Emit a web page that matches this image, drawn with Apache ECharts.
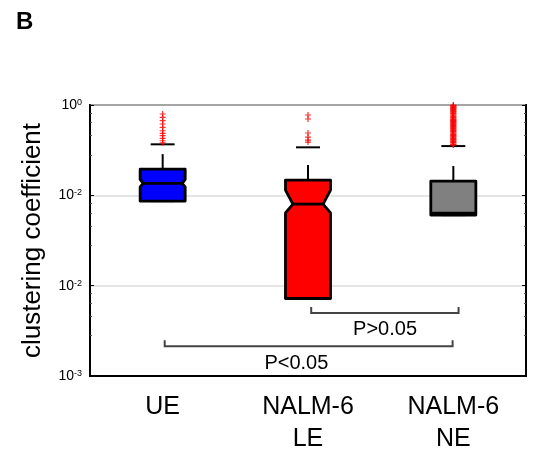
<!DOCTYPE html>
<html>
<head>
<meta charset="utf-8">
<script src="https://cdn.jsdelivr.net/npm/echarts@6/dist/echarts.min.js"></script>
<style>
  html, body { margin: 0; padding: 0; background: #fff; }
  #chart { width: 533px; height: 457px; }
</style>
</head>
<body>
<div id="chart"></div>
<script>
var categories = ['UE', 'NALM-6\nLE', 'NALM-6\nNE'];
var boxColors = ['#0000ff', '#ff0000', '#808080'];

// box statistics
var whiskerLow = [0.0863, 0.00721, 0.0604];
var q1 = [0.0863, 0.00721, 0.0604];
var median = [0.1356, 0.080, 0.0636];
var q3 = [0.195, 0.1475, 0.144];
var whiskerHigh = [0.367, 0.340, 0.351];
var notchLow = [0.124, 0.064, 0.0636];
var notchHigh = [0.150, 0.1143, 0.0636];

var outliersUE = [0.795, 0.731, 0.670, 0.616, 0.566, 0.519, 0.486, 0.457, 0.428, 0.402, 0.382];
var outliersLE = [0.775, 0.700, 0.490, 0.442, 0.409, 0.389];
var outliersNE = [1.0, 0.985, 0.97, 0.955, 0.94, 0.925, 0.91, 0.895, 0.88, 0.865, 0.85, 0.835,
                  0.82, 0.805, 0.79, 0.775, 0.76, 0.745, 0.73, 0.715, 0.70, 0.69, 0.68, 0.67,
                  0.66, 0.65, 0.64, 0.63, 0.62, 0.61, 0.60, 0.59, 0.58, 0.57, 0.56, 0.55,
                  0.54, 0.53, 0.52, 0.51, 0.50, 0.49, 0.48, 0.47, 0.46, 0.455, 0.445, 0.44,
                  0.43, 0.425, 0.415, 0.41, 0.40, 0.395, 0.385, 0.38, 0.37, 0.365, 0.36];

// y tick labels as printed in the figure (bottom to top)
var yTickBase = ['10', '10', '10', '10'];
var yTickPower = ['-3', '-2', '-2', '0'];

// significance brackets: category positions (fractional), height and label
var bracketFrom = [1.022, 0.014];
var bracketTo = [2.036, 1.995];
var bracketY = [0.00499, 0.00213];
var bracketLabelAt = [1.53, 0.92];
var bracketText = ['P>0.05', 'P<0.05'];

var FONT = '"Liberation Sans", Arial, sans-serif';

var chartDom = document.getElementById('chart');
var myChart = echarts.init(chartDom);

var outlierData = [];
outliersUE.forEach(function (v) { outlierData.push([0, v]); });
outliersLE.forEach(function (v) { outlierData.push([1, v]); });
outliersNE.forEach(function (v) { outlierData.push([2, v]); });

var boxData = [];
for (var i = 0; i < categories.length; i++) {
    boxData.push([i, whiskerLow[i], q1[i], median[i], q3[i], whiskerHigh[i]]);
}

function renderBox(params, api) {
    var i = params.dataIndex;
    var bw = api.size([1, 0])[0];
    var half = bw * 0.155;
    var capHalf = bw * 0.0825;
    var cx = api.coord([i, median[i]])[0];
    var y = function (v) { return api.coord([i, v])[1]; };
    var yQ1 = y(q1[i]), yQ3 = y(q3[i]), yMed = y(median[i]);
    var yNl = y(notchLow[i]), yNh = y(notchHigh[i]);
    var yWl = y(whiskerLow[i]), yWh = y(whiskerHigh[i]);
    var inset = Math.min(half * 0.45, 0.85 * Math.min(yNl - yMed, yMed - yNh));
    var L = cx - half, R = cx + half;
    var blk = { stroke: '#000', lineWidth: 2, fill: null };
    return {
        type: 'group',
        children: [
            {
                type: 'line',
                shape: { x1: cx, y1: yQ3, x2: cx, y2: yWh },
                style: { stroke: '#000', lineWidth: 2, lineDash: [15, 100] }
            },
            {
                type: 'line',
                shape: { x1: cx - capHalf, y1: yWh, x2: cx + capHalf, y2: yWh },
                style: blk
            },
            {
                type: 'line',
                shape: { x1: cx - capHalf, y1: yWl, x2: cx + capHalf, y2: yWl },
                style: blk
            },
            {
                type: 'polygon',
                shape: {
                    points: [[L, yQ3], [R, yQ3], [R, yNh], [R - inset, yMed], [R, yNl],
                             [R, yQ1], [L, yQ1], [L, yNl], [L + inset, yMed], [L, yNh]]
                },
                style: { fill: boxColors[i], stroke: '#000', lineWidth: 2.8, lineJoin: 'round' }
            },
            {
                type: 'line',
                shape: { x1: L + inset, y1: yMed, x2: R - inset, y2: yMed },
                style: { stroke: '#000', lineWidth: 2.8 }
            }
        ]
    };
}

function renderBracket(params, api) {
    var k = params.dataIndex;
    var bw = api.size([1, 0])[0];
    var x0 = api.coord([0, bracketY[k]])[0];
    var yy = api.coord([0, bracketY[k]])[1];
    var x1 = x0 + bracketFrom[k] * bw;
    var x2 = x0 + bracketTo[k] * bw;
    var xt = x0 + bracketLabelAt[k] * bw;
    return {
        type: 'group',
        children: [
            {
                type: 'polyline',
                shape: { points: [[x1, yy - 6], [x1, yy], [x2, yy], [x2, yy - 6]] },
                style: { stroke: '#444', lineWidth: 2, fill: null }
            },
            {
                type: 'text',
                x: xt,
                y: yy + 17,
                style: {
                    text: bracketText[k],
                    fill: '#000',
                    font: '20px ' + FONT,
                    align: 'center',
                    verticalAlign: 'middle'
                }
            }
        ]
    };
}

var option = {
    animation: false,
    textStyle: { fontFamily: FONT },
    title: {
        text: 'B',
        left: 11,
        top: 5,
        textStyle: { fontSize: 24, fontWeight: 'bold', color: '#000', fontFamily: FONT }
    },
    grid: {
        left: 90,
        right: 7,
        top: 105,
        bottom: 81,
        show: true,
        borderColor: '#000',
        borderWidth: 2,
        backgroundColor: '#fff'
    },
    xAxis: {
        type: 'category',
        data: categories,
        axisLine: { show: true, lineStyle: { color: '#000', width: 2 } },
        axisTick: { show: false },
        axisLabel: {
            color: '#000',
            fontSize: 25,
            lineHeight: 32,
            margin: 15,
            fontFamily: FONT
        }
    },
    yAxis: [
        {
            type: 'log',
            logBase: 10,
            min: 0.001,
            max: 1,
            name: 'clustering coefficient',
            nameLocation: 'middle',
            nameRotate: 90,
            nameGap: 44,
            nameTextStyle: { fontSize: 26, color: '#000', fontFamily: FONT },
            axisLine: { show: true, lineStyle: { color: '#000', width: 2 } },
            axisTick: { show: true, inside: true, length: 4, lineStyle: { color: '#000' } },
            minorTick: { show: true, splitNumber: 5, length: 2, lineStyle: { color: '#555' } },
            splitLine: { show: true, lineStyle: { color: '#dcdcdc', width: 1.5 } },
            axisLabel: {
                margin: 8,
                formatter: function (value, index) {
                    return '{b|' + yTickBase[index] + '}{s|' + yTickPower[index] + '}';
                },
                rich: {
                    b: { fontSize: 14, color: '#000', fontFamily: FONT },
                    s: { fontSize: 9, color: '#000', fontFamily: FONT, verticalAlign: 'top' }
                }
            }
        },
        {
            type: 'log',
            logBase: 10,
            min: 0.001,
            max: 1,
            position: 'right',
            axisLine: { show: true, lineStyle: { color: '#000', width: 2 } },
            axisLabel: { show: false },
            splitLine: { show: false },
            axisTick: { show: true, inside: true, length: 4, lineStyle: { color: '#000' } },
            minorTick: { show: true, splitNumber: 5, length: 2, lineStyle: { color: '#555' } }
        }
    ],
    series: [
        {
            type: 'custom',
            name: 'boxes',
            renderItem: renderBox,
            encode: { x: 0, y: [1, 2, 3, 4, 5] },
            data: boxData,
            z: 3
        },
        {
            type: 'scatter',
            name: 'outliers',
            data: outlierData,
            symbol: 'path://M4,0H6V4H10V6H6V10H4V6H0V4H4Z',
            symbolSize: 6,
            itemStyle: { color: '#ff0000' },
            z: 5
        },
        {
            type: 'custom',
            name: 'brackets',
            renderItem: renderBracket,
            data: bracketY.map(function (v, k) { return [0, v]; }),
            z: 4
        }
    ]
};

option && myChart.setOption(option);
window.addEventListener('resize', myChart.resize);
</script>
</body>
</html>
